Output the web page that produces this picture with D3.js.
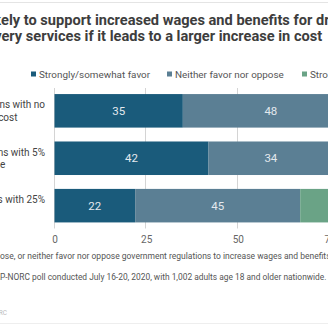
<!DOCTYPE html>
<html><head><meta charset="utf-8">
<script src="https://cdn.jsdelivr.net/npm/d3@7"></script>
<style>
html,body{margin:0;padding:0;background:#fff;overflow:hidden;}
svg{display:block;font-family:Roboto,"Noto Sans",sans-serif;}
</style></head>
<body>
<svg id="c" width="328" height="328"></svg>
<script>
const titleLines = ["Americans less likely to support increased wages and benefits for drivers of app-based",
                    "delivery services if it leads to a larger increase in cost"];
const categories = ["Regulations with no increase in cost",
                    "Regulations with 5% cost increase",
                    "Regulations with 25% cost increase"];
const seriesNames = ["Strongly/somewhat favor", "Neither favor nor oppose", "Strongly/somewhat oppose"];
const favor   = [35, 42, 22];
const neither = [48, 34, 45];
const oppose  = [17, 24, 33];
const tickValues = [0, 25, 50, 75, 100];
const noteText = "Question: Do you favor, oppose, or neither favor nor oppose government regulations to increase wages and benefits for drivers of app-based delivery services?";
const sourceText = "Source: AP-NORC poll conducted July 16-20, 2020, with 1,002 adults age 18 and older nationwide.";
const creditText = "Chart: AP-NORC";

const colors = ["#1a5b7b", "#5b7f94", "#6aa386"];
const svg = d3.select("#c");

// frame lines
svg.append("line").attr("x1",0).attr("x2",328).attr("y1",2.5).attr("y2",2.5).attr("stroke","#e4e4e4");
svg.append("line").attr("x1",0).attr("x2",328).attr("y1",323.5).attr("y2",323.5).attr("stroke","#eeeeee");

// helper: position text so that visible substring starts at targetX
function placeFrom(sel, full, cutIndex, targetX){
  sel.text(full).attr("x",0);
  const w = cutIndex > 0 ? sel.node().getSubStringLength(0, cutIndex) : 0;
  sel.attr("x", targetX - w);
}

// title
const t1 = svg.append("text").attr("y",25).attr("font-size",14.6).attr("font-weight",700).attr("fill","#3d3d3d");
placeFrom(t1, titleLines[0], titleLines[0].indexOf("ely to"), 1);
const t2 = svg.append("text").attr("y",40.5).attr("font-size",14.6).attr("font-weight",700).attr("fill","#3d3d3d");
placeFrom(t2, titleLines[1], titleLines[1].indexOf("ery "), 1.5);

// legend
const legendX = [31, 167, 302];
seriesNames.forEach((s,i)=>{
  svg.append("rect").attr("x",legendX[i]).attr("y",71.5).attr("width",5).attr("height",5).attr("fill",colors[i]);
  svg.append("text").attr("x",legendX[i]+8).attr("y",77.5).attr("font-size",9.9).attr("fill","#555").text(s);
});

// scales
const x = d3.scaleLinear().domain([0,100]).range([54.5, 54.5 + 100*3.667]);
const y = d3.scaleBand().domain(categories).range([88, 228.5]).paddingInner(0.293).paddingOuter(0.128);

// gridlines
svg.append("g").selectAll("line").data(tickValues).join("line")
  .attr("x1",d=>Math.round(x(d))-0.5).attr("x2",d=>Math.round(x(d))-0.5)
  .attr("y1",88).attr("y2",228.5).attr("stroke","#d4d4d4").attr("stroke-width",1);

// stacked data
const rows = categories.map((c,i)=>({cat:c, vals:[favor[i], neither[i], oppose[i]]}));
const g = svg.append("g");
rows.forEach(r=>{
  let acc = 0;
  r.vals.forEach((v,j)=>{
    g.append("rect").attr("x",x(acc)).attr("width",x(acc+v)-x(acc))
      .attr("y",y(r.cat)).attr("height",y.bandwidth()).attr("fill",colors[j]);
    g.append("text").attr("x",x(acc+v/2)).attr("y",y(r.cat)+y.bandwidth()/2+4)
      .attr("text-anchor","middle").attr("font-size",11.5).attr("fill","#e3e9ee").text(v);
    acc += v;
  });
});

// category labels: two lines; first line ends near x=45
categories.forEach(c=>{
  const m = c.match(/^(.*? with \S+) (.*)$/);
  const lines = [m[1], m[2]];
  const cy = y(c) + y.bandwidth()/2;
  const tx = svg.append("text").attr("font-size",10).attr("fill","#444");
  const t0 = tx.append("tspan").attr("y",cy - 2.5).text(lines[0]);
  const w0 = t0.node().getComputedTextLength();
  t0.attr("x",45 - w0);
  tx.append("tspan").attr("x",45 - w0 - 10).attr("y",cy + 10).text(lines[1]);
});

// axis
const axis = d3.axisBottom(x).tickValues(tickValues).tickSize(0).tickPadding(0);
const ag = svg.append("g").attr("transform","translate(0,236)").call(axis);
ag.select(".domain").remove();
ag.selectAll("text").attr("font-size",10).attr("fill","#666").attr("font-family","Roboto,sans-serif");

// note + source
const n1 = svg.append("text").attr("y",259).attr("font-size",8.5).attr("fill","#555");
placeFrom(n1, noteText, noteText.indexOf("ose, or"), 0);
const s1 = svg.append("text").attr("y",280).attr("font-size",8.4).attr("fill","#555");
placeFrom(s1, sourceText, sourceText.indexOf("P-NORC"), 0);
svg.append("text").attr("x",7).attr("y",315).attr("text-anchor","end").attr("font-size",6.5).attr("fill","#bbb").text(creditText);
</script>
</body></html>
